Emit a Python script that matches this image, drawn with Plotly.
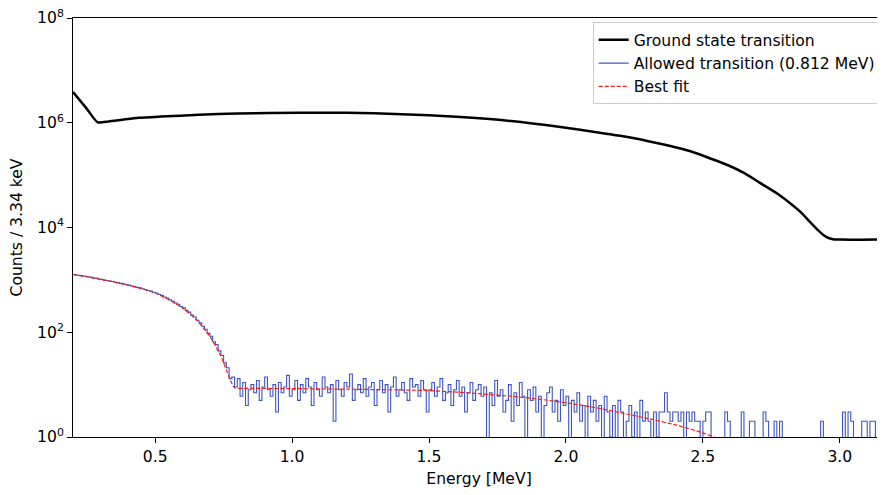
import numpy as np
import plotly.graph_objects as go

# Histogram binning of the allowed-transition spectrum (MeV)
BIN_START = 0.20
BIN_WIDTH = 0.01

# Counts per bin (0 = empty bin)
allowed_counts = [
    1265, 1232, 1218, 1190, 1172, 1145, 1128, 1094, 1078, 1040,   # 0.20
    1022, 995, 972, 946, 930, 902, 886, 856, 842, 808,            # 0.30
    796, 766, 748, 720, 702, 676, 655, 626, 612, 580,             # 0.40
    560, 526, 505, 470, 448, 415, 392, 360, 342, 310,             # 0.50
    292, 262, 242, 212, 196, 170, 152, 130, 114, 95,              # 0.60
    84, 66, 58, 44, 36, 26, 21, 13, 14, 9,                       # 0.70
    13, 6, 11, 4, 8, 10, 7, 12, 5, 9,                            # 0.80
    14, 8, 6, 10, 3, 11, 7, 9, 15, 6,                            # 0.90
    8, 12, 5, 10, 7, 13, 9, 4, 11, 8,                            # 1.00
    6, 14, 9, 7, 10, 2, 12, 8, 6, 11,                            # 1.10
    9, 16, 5, 8, 10, 7, 13, 6, 9, 11,                            # 1.20
    4, 8, 12, 7, 10, 3, 9, 14, 6, 8,                             # 1.30
    11, 7, 5, 13, 9, 10, 6, 12, 8, 3,                            # 1.40
    8, 11, 6, 9, 13, 5, 7, 10, 4, 8,                             # 1.50
    12, 6, 9, 3, 7, 11, 5, 8, 10, 6,                             # 1.60
    9, 0, 7, 4, 12, 6, 8, 3, 5, 10,                              # 1.70
    2, 7, 4, 11, 6, 0, 8, 5, 9, 3,                               # 1.80
    6, 0, 4, 7, 9, 3, 5, 2, 8, 4,                                # 1.90
    6, 0, 5, 3, 7, 2, 4, 0, 6, 3,                                # 2.00
    5, 2, 4, 0, 6, 3, 1, 4, 0, 5,                                # 2.10
    3, 0, 2, 4, 1, 3, 0, 5, 2, 3,                                # 2.20
    2, 0, 3, 1, 3, 3, 7, 3, 2, 3,                                # 2.30
    3, 2, 3, 0, 3, 2, 3, 2, 2, 0,                                # 2.40
    2, 3, 3, 0, 0, 0, 0, 0, 3, 2,                                # 2.50
    0, 0, 0, 0, 3, 0, 0, 2, 2, 0,                                # 2.60
    0, 0, 3, 2, 0, 0, 2, 0, 2, 0,                                # 2.70
    0, 0, 0, 0, 0, 0, 0, 0, 0, 0,                                # 2.80
    0, 0, 0, 2, 0, 0, 0, 0, 0, 0,                                # 2.90
    0, 3, 0, 3, 2, 0, 0, 0, 2, 2,                                # 3.00
    0, 2, 2, 0, 2, 0, 0,                                         # 3.10
]

# Ground state transition spectrum
gs_energy = [0.20, 0.25, 0.29, 0.33, 0.38, 0.44, 0.52, 0.66, 0.80, 1.03,
             1.20, 1.40, 1.60, 1.80, 1.98, 2.10, 2.22, 2.34, 2.46, 2.525,
             2.59, 2.65, 2.707, 2.77, 2.83, 2.86, 2.89, 2.92, 2.95, 2.975,
             3.00, 3.08, 3.165]
gs_counts = [3.85e6, 1.86e6, 1.02e6, 1.06e6, 1.14e6, 1.24e6, 1.31e6, 1.42e6, 1.5e6, 1.56e6,
             1.55e6, 1.46e6, 1.3e6, 1.08e6, 8.3e5, 6.7e5, 5.4e5, 4.0e5, 2.8e5, 2.1e5,
             1.56e5, 1.1e5, 7.2e4, 4.5e4, 2.6e4, 1.9e4, 1.29e4, 8.9e3, 6.6e3, 5.96e3,
             5.9e3, 5.85e3, 5.9e3]

# Best fit curve
fit_energy = [0.20, 0.25, 0.30, 0.35, 0.40, 0.45, 0.50, 0.55, 0.60, 0.65,
              0.70, 0.74, 0.77, 0.79, 0.85, 1.00, 1.20, 1.40, 1.50, 1.60,
              1.70, 1.80, 1.90, 2.00, 2.10, 2.20, 2.30, 2.40, 2.50, 2.54, 2.60]
fit_counts = [1260, 1150, 1020, 910, 790, 680, 560, 420, 290, 175,
              83, 35, 14, 8.7, 8.5, 8.4, 8.2, 7.9, 7.7, 7.2,
              6.6, 6.0, 5.3, 4.5, 3.7, 2.9, 2.25, 1.7, 1.2, 1.0, 0.75]

x_ticks = [0.5, 1.0, 1.5, 2.0, 2.5, 3.0]
y_ticks = [1, 1e2, 1e4, 1e6, 1e8]
y_ticktext = ["10<sup>0</sup>", "10<sup>2</sup>", "10<sup>4</sup>", "10<sup>6</sup>", "10<sup>8</sup>"]

# step histogram: empty bins pushed below the axis so the line drops out of view
edges = BIN_START + BIN_WIDTH * np.arange(len(allowed_counts) + 1)
step_y = [c if c > 0 else 0.1 for c in allowed_counts]
step_y.append(step_y[-1])

FONT = "DejaVu Sans"
FS = 15.6

fig = go.Figure()
fig.add_trace(go.Scatter(x=gs_energy, y=gs_counts, mode="lines",
                         line=dict(color="black", width=2.5, shape="spline", smoothing=0.6),
                         name="Ground state transition"))
fig.add_trace(go.Scatter(x=edges, y=step_y, mode="lines",
                         line=dict(color="#3f55bd", width=1.1, shape="hv"),
                         name="Allowed transition (0.812 MeV)"))
fig.add_trace(go.Scatter(x=fit_energy, y=fit_counts, mode="lines",
                         line=dict(color="#ff1a1a", width=1.2, dash="4px,2px", shape="spline", smoothing=0.5),
                         name="Best fit"))

fig.update_xaxes(range=[0.2, 3.165], tickvals=x_ticks, ticktext=["0.5", "1.0", "1.5", "2.0", "2.5", "3.0"],
                 showgrid=False, zeroline=False, showline=True, linecolor="black", linewidth=1,
                 mirror=True, ticks="outside", ticklen=5, tickcolor="black",
                 tickfont=dict(size=FS), automargin=False,
                 title=dict(text="Energy [MeV]", standoff=8, font=dict(size=FS)))
fig.update_yaxes(type="log", range=[0, 8], tickvals=y_ticks, ticktext=y_ticktext,
                 showgrid=False, zeroline=False, showline=True, linecolor="black", linewidth=1,
                 ticks="outside", ticklen=5, tickcolor="black", ticklabeloverflow="allow",
                 tickfont=dict(size=FS), automargin=False,
                 title=dict(text="Counts / 3.34 keV", standoff=12, font=dict(size=FS)))

# the page body adds an 8px offset, so the margins are shifted to compensate
fig.update_layout(
    width=885, height=495,
    margin=dict(l=65, r=8, t=10, b=66),
    paper_bgcolor="white", plot_bgcolor="white",
    font=dict(family=FONT, size=FS, color="black"),
    showlegend=True,
    legend=dict(x=0.64, y=0.99, xanchor="left", yanchor="top",
                bgcolor="white", bordercolor="#cccccc", borderwidth=1,
                font=dict(family=FONT, size=FS), tracegroupgap=0),
)

fig.write_html("out.html")
